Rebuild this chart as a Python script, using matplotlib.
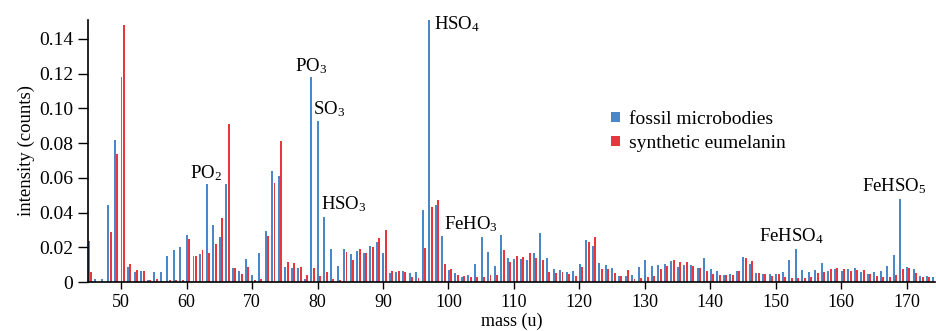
import numpy as np
import matplotlib
matplotlib.use("Agg")
import matplotlib.pyplot as plt

plt.rcParams['font.family'] = ['Liberation Serif', 'DejaVu Serif']
plt.rcParams['mathtext.fontset'] = 'custom'
plt.rcParams['mathtext.rm'] = 'Liberation Serif'
plt.rcParams['mathtext.default'] = 'regular'

# mass values 45..174
mass = np.arange(45, 175)

fossil = [
    0.0238, 0.0017, 0.0017, 0.0444, 0.082, 0.118, 0.0086, 0.0056, 0.0065, 0.0013,   # 45-54
    0.0056, 0.0056, 0.0148, 0.0184, 0.020, 0.027, 0.0151, 0.0161, 0.0567, 0.0326,   # 55-64
    0.0259, 0.0563, 0.0079, 0.0065, 0.0132, 0.0038, 0.0169, 0.0295, 0.064, 0.0611,  # 65-74
    0.0086, 0.008, 0.008, 0.0017, 0.118, 0.093, 0.0377, 0.019, 0.0092, 0.0188,      # 75-84
    0.0163, 0.018, 0.0169, 0.0209, 0.0228, 0.0169, 0.005, 0.0059, 0.0061, 0.005,    # 85-94
    0.006, 0.0414, 0.152, 0.0443, 0.0264, 0.0067, 0.0054, 0.0031, 0.0038, 0.0103,   # 95-104
    0.026, 0.0172, 0.0092, 0.0268, 0.0136, 0.0134, 0.0132, 0.0128, 0.0167, 0.028,   # 105-114
    0.0136, 0.0077, 0.007, 0.0059, 0.0061, 0.0102, 0.0243, 0.0207, 0.0107, 0.0096,  # 115-124
    0.0082, 0.0034, 0.0034, 0.004, 0.0086, 0.0126, 0.009, 0.0096, 0.0102, 0.0123,   # 125-134
    0.0084, 0.0096, 0.0096, 0.0079, 0.0136, 0.0073, 0.0063, 0.0038, 0.0046, 0.0065, # 135-144
    0.0146, 0.0102, 0.005, 0.0046, 0.0044, 0.0044, 0.0056, 0.0126, 0.0192, 0.0067,  # 145-154
    0.0057, 0.0067, 0.0111, 0.0063, 0.0073, 0.0065, 0.0077, 0.008, 0.006, 0.0048,   # 155-164
    0.0057, 0.0065, 0.009, 0.0157, 0.0477, 0.0084, 0.0075, 0.0034, 0.0034, 0.0031,  # 165-174
]

synthetic = [
    0.0056, 0.0, 0.0, 0.029, 0.074, 0.148, 0.0103, 0.0067, 0.0065, 0.0013,          # 45-54
    0.0015, 0.0005, 0.001, 0.001, 0.001, 0.0245, 0.0149, 0.0184, 0.0165, 0.022,     # 55-64
    0.0368, 0.091, 0.0079, 0.0046, 0.0088, 0.001, 0.0015, 0.0264, 0.0573, 0.081,    # 65-74
    0.0117, 0.0109, 0.0084, 0.004, 0.0079, 0.0034, 0.0057, 0.0019, 0.0013, 0.0174,  # 75-84
    0.0125, 0.0188, 0.0169, 0.020, 0.0251, 0.0297, 0.0065, 0.0065, 0.0057, 0.0031,  # 85-94
    0.0025, 0.0194, 0.0431, 0.0471, 0.0102, 0.0073, 0.0038, 0.0036, 0.0029, 0.0029, # 95-104
    0.0029, 0.0038, 0.0038, 0.0184, 0.0117, 0.0151, 0.0142, 0.0169, 0.0136, 0.0125, # 105-114
    0.006, 0.005, 0.0055, 0.0046, 0.0034, 0.0086, 0.0228, 0.026, 0.0077, 0.0073,    # 115-124
    0.005, 0.0034, 0.0071, 0.0019, 0.0023, 0.0027, 0.0034, 0.0077, 0.009, 0.0125,   # 125-134
    0.0115, 0.0117, 0.0092, 0.0079, 0.0061, 0.0046, 0.0038, 0.0038, 0.004, 0.0065,  # 135-144
    0.0138, 0.0123, 0.005, 0.0046, 0.0034, 0.0046, 0.0031, 0.0025, 0.0025, 0.0025,  # 145-154
    0.0031, 0.005, 0.006, 0.0077, 0.0079, 0.0077, 0.0065, 0.0069, 0.0071, 0.0048,   # 155-164
    0.0034, 0.0031, 0.0031, 0.0038, 0.0075, 0.0079, 0.0054, 0.0031, 0.0031, 0.003,  # 165-174
]

labels = ["PO$_2$", "PO$_3$", "SO$_3$", "HSO$_3$", "HSO$_4$", "FeHO$_3$", "FeHSO$_4$", "FeHSO$_5$"]
label_x = [60.5, 76.5, 79.3, 80.6, 97.8, 99.3, 147.5, 163.1]
label_y = [0.0598, 0.1215, 0.0966, 0.0418, 0.1453, 0.0305, 0.0232, 0.0523]

blue = '#4a87c9'
red = '#e8363a'

fig = plt.figure(figsize=(9.37, 3.31), dpi=100)
ax = fig.add_axes([0.0937, 0.148, 0.904, 0.792])

ax.bar(mass + 0.05, fossil, width=0.3, color=blue, label='fossil microbodies')
ax.bar(mass + 0.42, synthetic, width=0.3, color=red, label='synthetic eumelanin')

ax.set_xlim(44.9, 174.3)
ax.set_ylim(0, 0.151)
ax.set_xticks(np.arange(50, 171, 10))
ax.set_yticks(np.arange(0, 0.141, 0.02))
ax.set_yticklabels(['0'] + ['%.2f' % v for v in np.arange(0.02, 0.141, 0.02)])
ax.spines['top'].set_visible(False)
ax.spines['right'].set_visible(False)
ax.spines['left'].set_linewidth(1.2)
ax.spines['bottom'].set_linewidth(1.2)
ax.tick_params(axis='y', direction='out', length=7, width=1.0, labelsize=14)
ax.tick_params(axis='x', direction='out', length=5, width=1.0, labelsize=13)

ax.set_xlabel('mass (u)', fontsize=13, labelpad=1)
ax.set_ylabel('intensity (counts)', fontsize=13.5, labelpad=3)

for t, x, y in zip(labels, label_x, label_y):
    ax.text(x, y, t, fontsize=13.5, ha='left', va='baseline')

ax.legend(loc='upper left', bbox_to_anchor=(0.606, 0.69), frameon=False,
          fontsize=14, handlelength=0.45, handleheight=0.45,
          handletextpad=0.5, labelspacing=0.35, borderpad=0)

fig.savefig('out.png', dpi=100)
